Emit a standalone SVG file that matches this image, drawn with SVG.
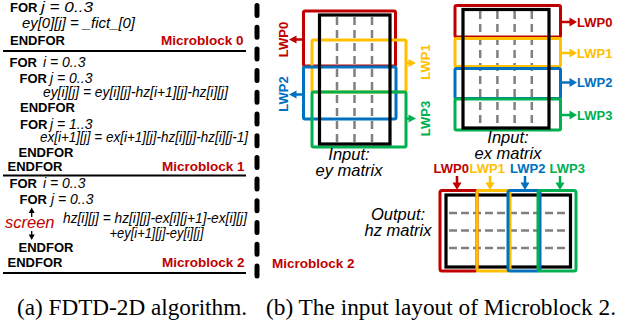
<svg xmlns="http://www.w3.org/2000/svg" width="618" height="328" viewBox="0 0 618 328">
<style>
text{font-family:"Liberation Sans",Arial,sans-serif;fill:#000}
.kw{font-weight:bold;font-size:13px}
.it{font-style:italic;font-size:14px}
.mb{font-weight:bold;font-size:13.5px;fill:#C00000}
.lwp{font-weight:bold;font-size:13px}
.lbl{font-style:italic;font-size:16.5px}
.cap{font-family:"Liberation Serif","Times New Roman",serif;font-size:23px}
.r{stroke:#C00000}.y{stroke:#FFC000}.b{stroke:#0070C0}.g{stroke:#00B050}
.fr{fill:#C00000}.fy{fill:#FFC000}.fb{fill:#0070C0}.fg{fill:#00B050}
.box{fill:none;stroke-width:3}
.blk{fill:none;stroke:#000;stroke-width:3.2}
.dash{stroke:#808080;stroke-width:2.5;stroke-dasharray:8 5;fill:none}
.sep{stroke:#000;stroke-width:2}
.al{stroke-width:2.5;fill:none}
</style>

<g id="code">
  <text x="10" y="12"><tspan class="kw">FOR</tspan><tspan class="it" x="41" textLength="52" lengthAdjust="spacingAndGlyphs">j = 0..3</tspan></text>
  <text class="it" x="22" y="27.5" textLength="113" lengthAdjust="spacingAndGlyphs">ey[0][j] = _fict_[0]</text>
  <text class="kw" x="10" y="44.5">ENDFOR</text>
  <text class="mb" x="161" y="44.5">Microblock 0</text>
  <line class="sep" x1="3" y1="51" x2="246" y2="51"/>

  <text x="9.5" y="67"><tspan class="kw">FOR</tspan><tspan class="it" x="43">i = 0..3</tspan></text>
  <text x="19.5" y="83"><tspan class="kw">FOR</tspan><tspan class="it" x="50">j = 0..3</tspan></text>
  <text class="it" x="43" y="97" textLength="185" lengthAdjust="spacingAndGlyphs">ey[i][j] = ey[i][j]-hz[i+1][j]-hz[i][j]</text>
  <text class="kw" x="20" y="112">ENDFOR</text>
  <text x="20" y="128.5"><tspan class="kw">FOR</tspan><tspan class="it" x="50">j = 1..3</tspan></text>
  <text class="it" x="40" y="142" textLength="208" lengthAdjust="spacingAndGlyphs">ex[i+1][j] = ex[i+1][j]-hz[i][j]-hz[i][j-1]</text>
  <text class="kw" x="18.5" y="157">ENDFOR</text>
  <text class="kw" x="7.5" y="170.5">ENDFOR</text>
  <text class="mb" x="162" y="170.5">Microblock 1</text>
  <line class="sep" x1="3" y1="175.5" x2="246" y2="175.5"/>

  <text x="9.5" y="187.5"><tspan class="kw">FOR</tspan><tspan class="it" x="43">i = 0..3</tspan></text>
  <text x="19.5" y="204"><tspan class="kw">FOR</tspan><tspan class="it" x="51">j = 0..3</tspan></text>
  <text x="5" y="227.5" style="font-style:italic;font-size:16.5px;fill:#C00000">screen</text>
  <text class="it" x="63" y="223" textLength="184" lengthAdjust="spacingAndGlyphs">hz[i][j] = hz[i][j]-ex[i][j+1]-ex[i][j]</text>
  <text class="it" x="109.5" y="237.5" textLength="94" lengthAdjust="spacingAndGlyphs">+ey[i+1][j]-ey[i][j]</text>
  <text class="kw" x="18.5" y="252">ENDFOR</text>
  <text class="kw" x="7.5" y="267">ENDFOR</text>
  <text class="mb" x="162" y="267">Microblock 2</text>
  <line class="sep" x1="3" y1="273" x2="246" y2="273"/>
</g>

<g id="separator">
  <line x1="257" y1="5.5" x2="257" y2="276" stroke="#000" stroke-width="5" stroke-linecap="round" stroke-dasharray="10 11.7"/>
  <text class="mb" x="272" y="268">Microblock 2</text>
</g>

<g id="ey-matrix">
  <line class="dash" x1="337" y1="17" x2="337" y2="142"/>
  <line class="dash" x1="354.5" y1="17" x2="354.5" y2="142"/>
  <line class="dash" x1="372" y1="17" x2="372" y2="142"/>
  <rect class="box r" x="303.5" y="11" width="92" height="55" rx="1.5"/>
  <rect class="box y" x="312" y="40" width="94" height="52" rx="1.5"/>
  <rect class="box b" x="303.5" y="67" width="92.5" height="52" rx="1.5"/>
  <rect class="box g" x="312" y="92" width="94" height="55" rx="1.5"/>
  <rect class="blk" x="319.5" y="15" width="70.5" height="129"/>
  <text class="lwp" transform="translate(288,39.5) rotate(-90)" text-anchor="middle" style="fill:#C00000">LWP0</text>
  <text class="lwp" transform="translate(288,94) rotate(-90)" text-anchor="middle" style="fill:#0070C0">LWP2</text>
  <text class="lwp" transform="translate(430,62) rotate(-90)" text-anchor="middle" style="fill:#FFC000">LWP1</text>
  <text class="lwp" transform="translate(430,118.5) rotate(-90)" text-anchor="middle" style="fill:#00B050">LWP3</text>
  <text class="lbl" x="349" y="159.5" text-anchor="middle">Input:</text>
  <text class="lbl" x="349" y="175.5" text-anchor="middle">ey matrix</text>
</g>

<g id="ex-matrix">
  <line class="dash" x1="480.2" y1="11" x2="480.2" y2="126"/>
  <line class="dash" x1="497.4" y1="11" x2="497.4" y2="126"/>
  <line class="dash" x1="514.6" y1="11" x2="514.6" y2="126"/>
  <line class="dash" x1="531.8" y1="11" x2="531.8" y2="126"/>
  <rect class="box r" x="455" y="5.5" width="105.5" height="31.5" rx="1.5"/>
  <rect class="box y" x="455" y="38.5" width="105.5" height="28" rx="1.5"/>
  <rect class="box b" x="455" y="68.5" width="105.5" height="30" rx="1.5"/>
  <rect class="box g" x="455" y="99" width="105.5" height="31" rx="1.5"/>
  <rect class="blk" x="463" y="9.5" width="86" height="118.5"/>
  <text class="lwp" x="577" y="27" style="fill:#C00000">LWP0</text>
  <text class="lwp" x="577" y="58" style="fill:#FFC000">LWP1</text>
  <text class="lwp" x="577" y="87" style="fill:#0070C0">LWP2</text>
  <text class="lwp" x="577" y="120" style="fill:#00B050">LWP3</text>
  <text class="lbl" x="508" y="142.5" text-anchor="middle">Input:</text>
  <text class="lbl" x="508" y="158.5" text-anchor="middle">ex matrix</text>
</g>

<g id="hz-matrix">
  <rect class="blk" x="446" y="195" width="124.5" height="72"/>
  <line class="dash" x1="449" y1="213" x2="568" y2="213" style="stroke-dasharray:8 4"/>
  <line class="dash" x1="449" y1="230.5" x2="568" y2="230.5" style="stroke-dasharray:8 4"/>
  <line class="dash" x1="449" y1="248" x2="568" y2="248" style="stroke-dasharray:8 4"/>
  <rect class="box r" x="440" y="190.5" width="37" height="80.5" rx="2"/>
  <rect class="box y" x="477" y="190.5" width="33" height="80.5" rx="2"/>
  <rect class="box b" x="508" y="190.5" width="32" height="80.5" rx="2"/>
  <rect class="box g" x="538" y="190.5" width="38" height="80.5" rx="2"/>
  <text class="lwp" x="433.5" y="173" style="fill:#C00000">LWP0</text>
  <text class="lwp" x="469.5" y="173" style="fill:#FFC000">LWP1</text>
  <text class="lwp" x="510" y="173" style="fill:#0070C0">LWP2</text>
  <text class="lwp" x="549.5" y="173" style="fill:#00B050">LWP3</text>
  <text class="lbl" x="398" y="219.5" text-anchor="middle">Output:</text>
  <text class="lbl" x="398" y="235.5" text-anchor="middle">hz matrix</text>
</g>

<g id="connectors">
  <line class="al r" x1="303" y1="39.5" x2="295" y2="39.5"/><polygon class="fr" points="296.5,35.5 289,39.5 296.5,43.5"/>
  <line class="al b" x1="303" y1="94.5" x2="295" y2="94.5"/><polygon class="fb" points="296.5,90.5 289,94.5 296.5,98.5"/>
  <line class="al y" x1="406" y1="63" x2="410" y2="63"/><polygon class="fy" points="408.5,59 416,63 408.5,67"/>
  <line class="al g" x1="406" y1="118.5" x2="410" y2="118.5"/><polygon class="fg" points="408.5,114.5 416,118.5 408.5,122.5"/>

  <line class="al r" x1="561" y1="22" x2="571" y2="22"/><polygon class="fr" points="569.5,17.5 577,22 569.5,26.5"/>
  <line class="al y" x1="561" y1="53" x2="571" y2="53"/><polygon class="fy" points="569.5,48.5 577,53 569.5,57.5"/>
  <line class="al b" x1="561" y1="82.5" x2="571" y2="82.5"/><polygon class="fb" points="569.5,78 577,82.5 569.5,87"/>
  <line class="al g" x1="561" y1="115" x2="571" y2="115"/><polygon class="fg" points="569.5,110.5 577,115 569.5,119.5"/>

  <line class="al r" x1="457" y1="176" x2="457" y2="184"/><polygon class="fr" points="452.5,182.5 457,190 461.5,182.5"/>
  <line class="al y" x1="490" y1="176" x2="490" y2="184"/><polygon class="fy" points="485.5,182.5 490,190 494.5,182.5"/>
  <line class="al b" x1="525" y1="176" x2="525" y2="184"/><polygon class="fb" points="520.5,182.5 525,190 529.5,182.5"/>
  <line class="al g" x1="560" y1="176" x2="560" y2="184"/><polygon class="fg" points="555.5,182.5 560,190 564.5,182.5"/>

  <line x1="31.7" y1="217" x2="31.7" y2="212" stroke="#000" stroke-width="1.3"/><polygon points="28.7,213 31.7,207.5 34.7,213" fill="#000"/>
  <line x1="31.7" y1="231" x2="31.7" y2="236" stroke="#000" stroke-width="1.3"/><polygon points="28.7,234.5 31.7,240 34.7,234.5" fill="#000"/>
</g>

<g id="caption">
  <text class="cap" x="17" y="315" textLength="230" lengthAdjust="spacingAndGlyphs">(a) FDTD-2D algorithm.</text>
  <text class="cap" x="266" y="315" textLength="350" lengthAdjust="spacingAndGlyphs">(b) The input layout of Microblock 2.</text>
</g>
</svg>
